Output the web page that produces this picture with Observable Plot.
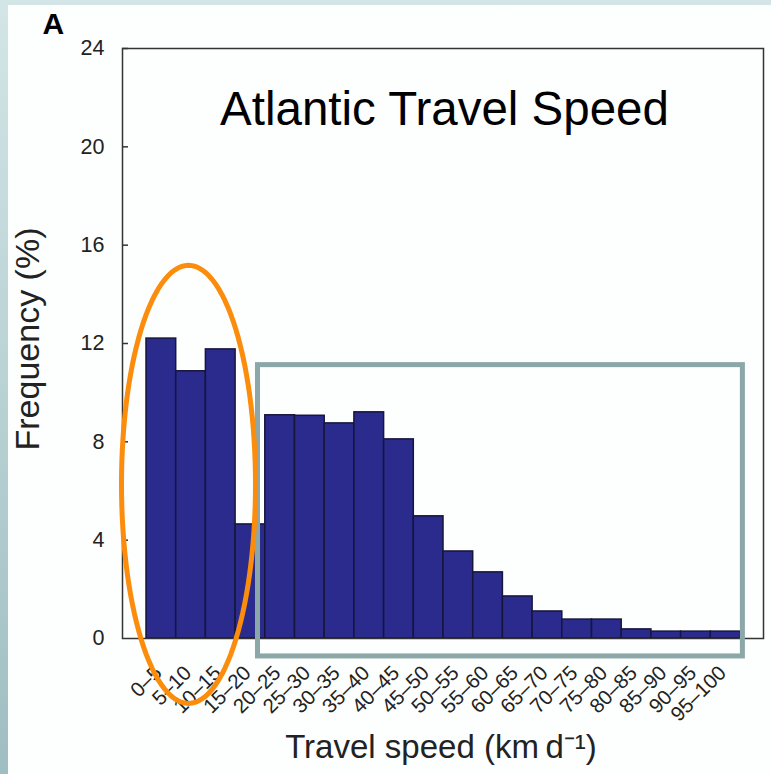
<!DOCTYPE html>
<html>
<head>
<meta charset="utf-8">
<script src="https://cdn.jsdelivr.net/npm/d3@7"></script>
<script src="https://cdn.jsdelivr.net/npm/@observablehq/plot@0.6"></script>
<style>
  html, body { margin: 0; padding: 0; }
  #wrap { position: relative; width: 771px; height: 774px; overflow: hidden;
    background: linear-gradient(to bottom, #d3e5e7 0%, #b9d2d4 50%, #9fbec1 100%); }
  #panel { position: absolute; left: 8px; top: 5px; right: 0; bottom: 0; background: #fdfefe; }
  #chart { position: absolute; left: 0; top: 0; }
  text { font-family: "Liberation Sans", Arial, sans-serif; }
</style>
</head>
<body>
<div id="wrap"><div id="panel"></div><div id="chart"></div></div>
<script>
// ---- data ----
const speedBins = ["0–5","5–10","10–15","15–20","20–25","25–30","30–35","35–40","40–45","45–50",
                   "50–55","55–60","60–65","65–70","70–75","75–80","80–85","85–90","90–95","95–100"];
const frequency = [12.2, 10.87, 11.76, 4.64, 9.08, 9.06, 8.75, 9.2, 8.1, 4.97,
                   3.54, 2.69, 1.71, 1.1, 0.77, 0.77, 0.37, 0.28, 0.28, 0.28];
const yTicks = [0, 4, 8, 12, 16, 20, 24];
const chartTitle = "Atlantic Travel Speed";
const panelLetter = "A";
const yLabel = "Frequency (%)";
const xLabel = "Travel speed (km\u2009d\u207B\u00B9)";
// annotation shapes, in data units (speed, frequency)
const ellipseAnno = {cx: 7.07, cy: 6.27, rx: 11.28, ry: 8.91};
const boxAnno = {x1: 18.77, x2: 100.4, y1: -0.73, y2: 11.12};

const bars = speedBins.map((label, i) => {
  const [lo, hi] = label.split("–").map(Number);
  return {label, lo, hi, mid: (lo + hi) / 2, freq: frequency[i]};
});

const ellipsePts = d3.range(0, 361, 3).map(a => {
  const t = a * Math.PI / 180;
  return {x: ellipseAnno.cx + ellipseAnno.rx * Math.cos(t), y: ellipseAnno.cy + ellipseAnno.ry * Math.sin(t)};
});

const plot = Plot.plot({
  width: 771,
  height: 774,
  marginLeft: 122,
  marginRight: 8,
  marginTop: 48,
  marginBottom: 136,
  style: {background: "transparent", fontFamily: "Liberation Sans, Arial, sans-serif", fontSize: "19px", color: "#222"},
  x: {domain: [-4.04, 103.87], axis: null},
  y: {domain: [0, 24], axis: null},
  marks: [
    Plot.rect(bars, {x1: "lo", x2: "hi", y1: 0, y2: "freq", fill: "#2b2b8e", stroke: "#16163c", strokeWidth: 1.5}),
    Plot.frame({stroke: "#333", strokeWidth: 1.5}),
    // inward y ticks
    Plot.axisY({ticks: yTicks.slice(1), tickSize: 6, dx: 6, tickFormat: () => "", label: null, stroke: "#333", strokeWidth: 1.5}),
    // y tick labels
    Plot.text(yTicks, {y: d => d, text: d => String(d), frameAnchor: "left", textAnchor: "end", lineAnchor: "middle",
                dx: -18, fontSize: 21.5, fill: "#222"}),
    // rotated x tick labels
    Plot.text(bars, {x: "mid", text: "label", frameAnchor: "bottom", textAnchor: "end", lineAnchor: "middle",
                rotate: -45, dx: -3, dy: 31, fontSize: 20.5, fill: "#222"}),
    Plot.text([chartTitle], {frameAnchor: "top", lineAnchor: "top", dy: 43, dx: 1.5, fontSize: 47.5, fill: "#000"}),
    Plot.text([panelLetter], {frameAnchor: "top-left", textAnchor: "start", lineAnchor: "top", dx: -80, dy: -36,
                fontSize: 30, fontWeight: "bold", fill: "#000"}),
    Plot.text([yLabel], {frameAnchor: "left", textAnchor: "middle", rotate: -90, lineAnchor: "middle", dx: -94, dy: -4.5,
                fontSize: 34, fill: "#222"}),
    Plot.text([xLabel], {frameAnchor: "bottom", textAnchor: "middle", lineAnchor: "bottom", dy: 119, dx: -2, fontSize: 33, fill: "#222"}),
    Plot.rect([boxAnno], {x1: "x1", x2: "x2", y1: "y1", y2: "y2", fill: "none", stroke: "#8ca7a8", strokeWidth: 5}),
    Plot.line(ellipsePts, {x: "x", y: "y", stroke: "#fb8c0c", strokeWidth: 5, curve: "linear-closed"})
  ]
});
document.getElementById("chart").appendChild(plot);
</script>
</body>
</html>
